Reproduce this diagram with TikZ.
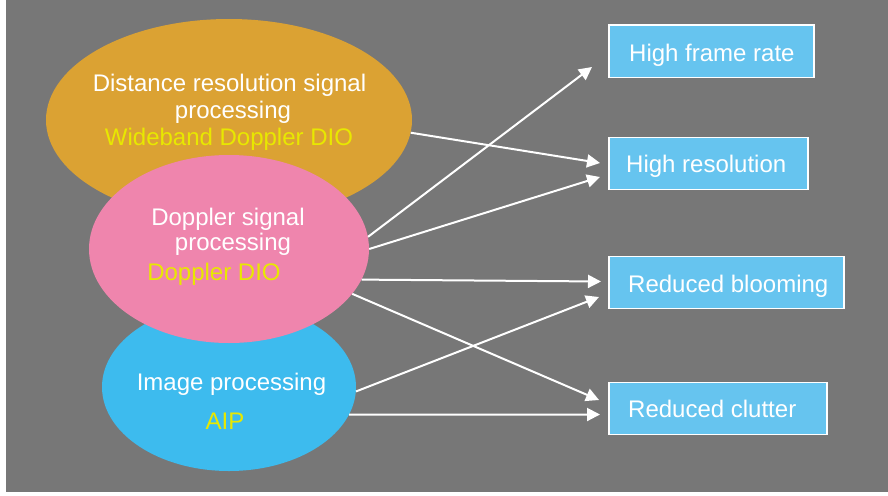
\documentclass[tikz,border=0pt]{standalone}
\usepackage{fontspec}
\setmainfont{Liberation Sans}
\usetikzlibrary{shapes.geometric,arrows.meta,calc}
\definecolor{bggray}{HTML}{777777}
\definecolor{orangefill}{HTML}{DBA233}
\definecolor{pinkfill}{HTML}{EF85AD}
\definecolor{bluefill}{HTML}{3DBBEE}
\definecolor{boxfill}{HTML}{66C4EF}
\definecolor{ytext}{HTML}{E8E800}
\begin{document}
\begin{tikzpicture}[x=1pt,y=-1pt,
  blob/.style={ellipse, inner sep=0pt, draw=none},
  wtext/.style={text=white, font=\fontsize{24}{28}\selectfont, anchor=base, inner sep=0pt},
  ytxt/.style={text=ytext, font=\fontsize{24}{28}\selectfont, anchor=base, inner sep=0pt},
  resbox/.style={rectangle, fill=boxfill, draw=white, line width=1.5pt,
    inner sep=0pt, minimum height=52pt, anchor=north west},
  boxtext/.style={text=white, font=\fontsize{24}{28}\selectfont, anchor=base west, inner sep=0pt},
  arr/.style={draw=white, line width=2pt, -{Triangle[length=13pt,width=13pt]}}
]
\useasboundingbox (0,0) rectangle (888,495);
\fill[white] (0,0) rectangle (888,495);
\fill[bggray] (6,0) rectangle (888,491.5);

% ellipses
\node[blob, fill=orangefill, minimum width=366pt, minimum height=202pt] (orange) at (229,120) {};
\node[blob, fill=bluefill, minimum width=254pt, minimum height=168pt] (blue) at (229,387) {};
\node[blob, fill=pinkfill, minimum width=280pt, minimum height=188pt] (pink) at (229,249) {};

% ellipse texts
\node[wtext] (o1) at (229.5,92) {Distance resolution signal};
\node[wtext] (o2) at (233,118) {processing};
\node[ytxt] (o3) at (229,145) {Wideband Doppler DIO};
\node[wtext] (p1) at (228,225) {Doppler signal};
\node[wtext] (p2) at (233,250) {processing};
\node[ytxt] (p3) at (214,280) {Doppler DIO};
\node[wtext] (b1) at (231.5,390) {Image processing};
\node[ytxt] (b2) at (225,429) {AIP};

% result boxes
\node[resbox, minimum width=205pt] (hfr) at (608,24.5) {};
\node[resbox, minimum width=199pt] (hres) at (608,136.5) {};
\node[resbox, minimum width=235pt] (hblo) at (608,255.5) {};
\node[resbox, minimum width=218pt] (hclu) at (608,381.5) {};
\node[boxtext] (hfrt) at ($(hfr.north west)+(21,37)$) {High frame rate};
\node[boxtext] (hrest) at ($(hres.north west)+(18,36)$) {High resolution};
\node[boxtext] (hblot) at ($(hblo.north west)+(20,36.5)$) {Reduced blooming};
\node[boxtext] (hclut) at ($(hclu.north west)+(20,36)$) {Reduced clutter};

% arrow tips
\coordinate (t1) at (600,163);
\coordinate (t2) at (592,67);
\coordinate (t3) at (600,177);
\coordinate (t4) at (601,281.5);
\coordinate (t5) at (599,400);
\coordinate (t6) at (599,297);
\coordinate (t7) at (600,414.5);

% arrows
\draw[arr] (orange.-4) -- (t1);
\draw[arr] (pink.5) -- (t2);
\draw[arr] (pink.0) -- (t3);
\draw[arr] (pink.-13.4) -- (t4);
\draw[arr] (pink.-20.8) -- (t5);
\draw[arr] (blue.-2.7) -- (t6);
\draw[arr] (blue.-13.5) -- (t7);
\end{tikzpicture}
\end{document}
